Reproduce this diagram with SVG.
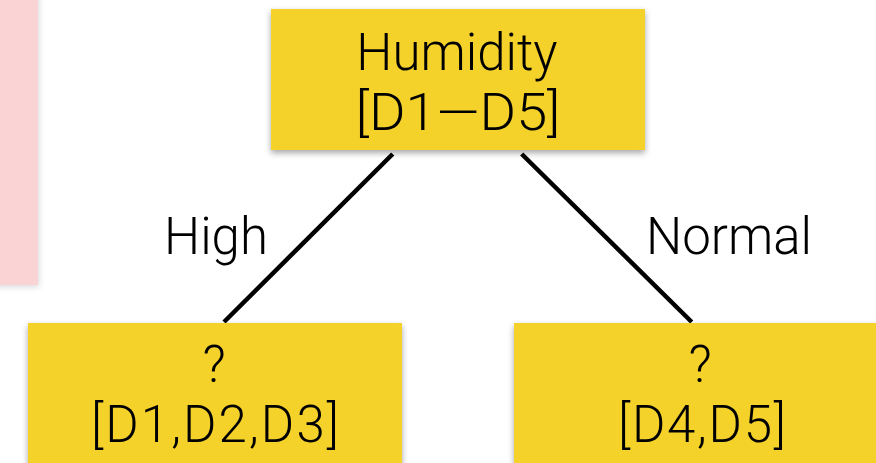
<svg xmlns="http://www.w3.org/2000/svg" width="876" height="463" viewBox="0 0 876 463">
<defs>
<filter id="sh" x="-10%" y="-10%" width="120%" height="130%">
<feDropShadow dx="0" dy="3" stdDeviation="3" flood-color="#000" flood-opacity="0.35"/>
</filter>
<filter id="shp" x="-20%" y="-10%" width="140%" height="130%">
<feDropShadow dx="1" dy="2" stdDeviation="3" flood-color="#000" flood-opacity="0.15"/>
</filter>
</defs>
<style>
.box{fill:#F5D22B;filter:url(#sh)}
.t{font-family:Roboto,"Liberation Sans",sans-serif;font-weight:300;font-size:51px;fill:#000;text-anchor:middle}
.edge{stroke:#000;stroke-width:4.5;fill:none}
</style>
<rect width="876" height="463" fill="#fff"/>
<rect x="-10" y="-10" width="48" height="295" fill="#FAD4D4" filter="url(#shp)"/>
<g id="connectors">
<line class="edge" x1="392.7" y1="154" x2="224" y2="322"/>
<line class="edge" x1="521.7" y1="154" x2="691.7" y2="322"/>
<text class="t" x="216" y="254">High</text>
<text class="t" x="729" y="254">Normal</text>
</g>
<g id="humidity">
<rect class="box" x="271" y="9" width="374" height="141"/>
<text class="t" x="457" y="70">Humidity</text>
<text class="t" x="458" y="130" textLength="205" lengthAdjust="spacingAndGlyphs">[D1—D5]</text>
</g>
<g id="left">
<rect class="box" x="28" y="323" width="374" height="150"/>
<text class="t" x="214" y="382">?</text>
<text class="t" x="215" y="442" textLength="248" lengthAdjust="spacing">[D1,D2,D3]</text>
</g>
<g id="right">
<rect class="box" x="514" y="323" width="374" height="150"/>
<text class="t" x="700" y="382">?</text>
<text class="t" x="702" y="442" textLength="168" lengthAdjust="spacing">[D4,D5]</text>
</g>
</svg>
